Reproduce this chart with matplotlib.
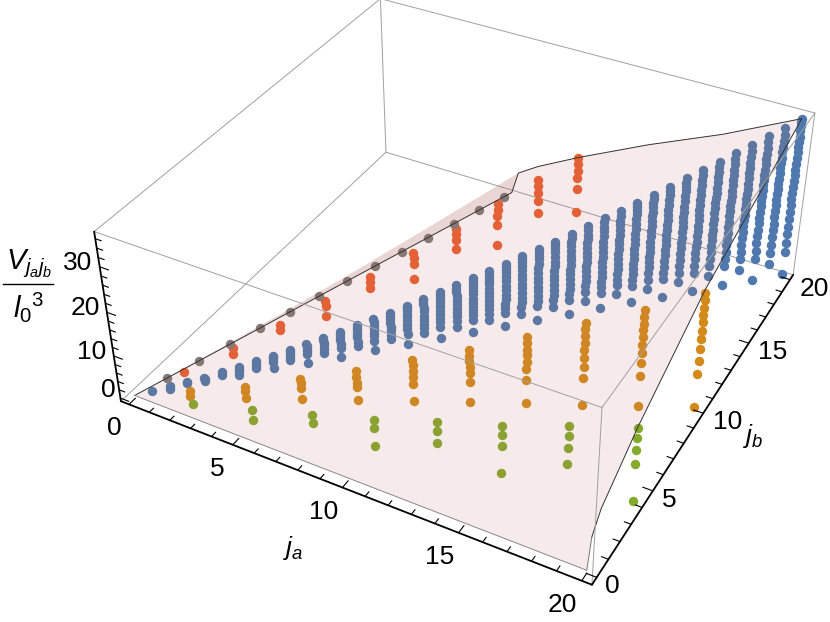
import numpy as np
import matplotlib
matplotlib.use('Agg')
import matplotlib.pyplot as plt
from mpl_toolkits.mplot3d import proj3d
from mpl_toolkits.mplot3d.art3d import Poly3DCollection

plt.rcParams['font.family'] = 'Liberation Sans'
plt.rcParams['mathtext.fontset'] = 'custom'
plt.rcParams['mathtext.rm'] = 'Liberation Sans'
plt.rcParams['mathtext.it'] = 'Liberation Sans:italic'

# box limits (2% padding as in the original)
ja_lim = [-0.4, 20.4]
jb_lim = [-0.4, 20.4]
v_lim = [-0.75, 37.5]

# where the box corners sit on the 830x622 picture (the eighth is off the top)
corner_world = [
    (ja_lim[0], jb_lim[0], v_lim[0]), (ja_lim[1], jb_lim[0], v_lim[0]),
    (ja_lim[1], jb_lim[1], v_lim[0]), (ja_lim[0], jb_lim[1], v_lim[0]),
    (ja_lim[0], jb_lim[0], v_lim[1]), (ja_lim[1], jb_lim[0], v_lim[1]),
    (ja_lim[1], jb_lim[1], v_lim[1])]
corner_pixel = [(121, 401), (592, 585), (793, 275), (386, 152),
                (94, 232), (602, 407), (815, 113)]

# blue: ja = jb
blue_j = [0.5, 1, 1.5, 2, 2.5, 3, 3.5, 4, 4.5, 5, 5.5, 6, 6.5, 7, 7.5, 8, 8.5, 9, 9.5, 10,
          10.5, 11, 11.5, 12, 12.5, 13, 13.5, 14, 14.5, 15, 15.5, 16, 16.5, 17, 17.5, 18,
          18.5, 19, 19.5, 20]
blue_v = [
    [0.2], [0, 0.6], [0.5, 0.9], [0.3, 0.7, 1.1], [1.0, 1.6], [0.3, 1.2, 1.7, 2.1],
    [1.2, 1.8, 2.3, 2.7], [0.3, 1.9, 2.5, 2.9, 3.3], [1.4, 2.3, 2.9, 3.4, 3.9],
    [0, 2.1, 2.9, 3.5, 4.1, 4.5], [1.7, 2.65, 3.5, 4.2, 4.8, 5.3],
    [0, 2.1, 3.1, 4, 4.8, 5.5, 6], [1.8, 2.9, 3.9, 4.8, 5.6, 6.2, 6.8],
    [0, 2.4, 3.4, 4.3, 5.2, 6, 6.8, 7.6], [2.1, 3.1, 4.1, 5, 5.9, 6.8, 7.6, 8.4],
    [0, 2.6, 3.7, 4.7, 5.6, 6.5, 7.4, 8.2, 8.8, 9.3], [2, 3.2, 4.2, 5.2, 6.2, 7.2, 8.1, 8.9, 9.6, 10.2],
    [0, 2.8, 3.9, 4.9, 5.9, 6.9, 7.9, 8.8, 9.6, 10.4, 11.1],
    [2, 3.5, 4.6, 5.6, 6.6, 7.6, 8.6, 9.5, 10.4, 11.2, 12],
    [0, 3, 4.1, 5.1, 6.1, 7.1, 8.1, 9.1, 10, 10.8, 11.6, 12.3, 13],
    [2.1, 3.7, 4.8, 5.8, 6.8, 7.8, 8.8, 9.8, 10.8, 11.7, 12.5, 13.3, 14],
    [0, 3.1, 4.3, 5.4, 6.5, 7.6, 8.7, 9.8, 10.9, 11.9, 12.8, 13.6, 14.3, 15],
    [2.3, 3.9, 5.1, 6.2, 7.3, 8.4, 9.5, 10.6, 11.7, 12.7, 13.7, 14.6, 15.4, 16],
    [0, 3.4, 4.7, 5.9, 7, 8.1, 9.2, 10.3, 11.4, 12.5, 13.6, 14.6, 15.5, 16.3, 17],
    [2.4, 4.2, 5.5, 6.7, 7.9, 9, 10.1, 11.2, 12.3, 13.4, 14.5, 15.6, 16.6, 17.4, 18.1],
    [0, 3.5, 4.9, 6.2, 7.4, 8.6, 9.7, 10.8, 11.9, 13, 14.1, 15.2, 16.3, 17.3, 18.3, 19.2],
    [2.6, 4.8, 6.2, 7.4, 8.6, 9.8, 10.9, 12, 13.1, 14.2, 15.3, 16.4, 17.4, 18.4, 19.4, 20.3],
    [0, 3.7, 5.1, 6.4, 7.7, 8.9, 10.1, 11.3, 12.5, 13.7, 14.9, 16.1, 17.3, 18.5, 19.6, 20.6, 21.5],
    [2.7, 4.9, 6.3, 7.6, 8.8, 10, 11.2, 12.4, 13.6, 14.8, 15.9, 17, 18.1, 19.2, 20.3, 21.5, 22.6],
    [0, 4, 5.5, 6.9, 8.2, 9.4, 10.6, 11.8, 13, 14.2, 15.4, 16.6, 17.8, 18.9, 20, 21.1, 22.1, 23, 23.8],
    [2.7, 4.9, 6.5, 7.9, 9.2, 10.5, 11.7, 12.9, 14.1, 15.3, 16.5, 17.7, 18.9, 20, 21.1, 22.2, 23.2, 24.1, 25],
    [0, 4.3, 5.9, 7.4, 8.8, 10.1, 11.4, 12.6, 13.8, 15, 16.2, 17.4, 18.6, 19.8, 20.9, 22, 23.1, 24.2, 25.2, 26.2],
    [2.9, 5.2, 6.9, 8.4, 9.8, 11.1, 12.4, 13.7, 15, 16.2, 17.4, 18.6, 19.8, 21, 22.2, 23.4, 24.5, 25.5, 26.5, 27.5],
    [0, 4.5, 6.2, 7.8, 9.3, 10.7, 12, 13.3, 14.6, 15.9, 17.1, 18.3, 19.5, 20.7, 21.9, 23.1, 24.2, 25.3, 26.4, 27.6, 28.7],
    [3, 5.4, 7.2, 8.8, 10.3, 11.7, 13, 14.3, 15.6, 16.9, 18.1, 19.3, 20.5, 21.7, 22.9, 24.1, 25.3, 26.5, 27.7, 28.9, 30],
    [0, 4.8, 6.6, 8.3, 9.9, 11.4, 12.8, 14.2, 15.5, 16.8, 18, 19.2, 20.4, 21.6, 22.8, 24, 25.2, 26.4, 27.6, 28.8, 30.1, 31.3],
    [3.1, 5.7, 7.6, 9.3, 10.9, 12.4, 13.8, 15.2, 16.5, 17.8, 19, 20.2, 21.4, 22.6, 23.8, 25, 26.2, 27.4, 28.6, 29.9, 31.2, 32.6],
    [0, 5.2, 7.2, 9, 10.7, 12.3, 13.8, 15.2, 16.6, 17.9, 19.2, 20.4, 21.6, 22.8, 24, 25.2, 26.4, 27.6, 28.8, 30, 31.3, 32.6, 34],
    [3.2, 5.9, 7.9, 9.8, 11.5, 13.1, 14.6, 16.1, 17.5, 18.8, 20.1, 21.3, 22.5, 23.7, 24.9, 26.1, 27.3, 28.5, 29.7, 30.9, 32.2, 33.7, 35.3],
    [0, 5.4, 7.7, 9.8, 11.7, 13.5, 15.2, 16.8, 18.3, 19.8, 21.2, 22.6, 23.9, 25.2, 26.5, 27.8, 29.1, 30.3, 31.5, 32.7, 33.9, 35.1, 36, 36.7]]

# orange: jb = ja/2
orange_ja = [2, 4, 6, 8, 10, 12, 14, 16, 18, 20]
orange_jb = [1, 2, 3, 4, 5, 6, 7, 8, 9, 10]
orange_v = [
    [0.2, 1.4], [0, 1.7, 2.7], [0, 2.6, 3.8, 4.8], [0, 3.1, 4.1, 5.5, 6.9],
    [0, 4.1, 5.9, 7.3, 8.5, 9.7], [0, 4.9, 7.1, 8.5, 9.9, 11, 12.3],
    [0, 5.6, 8.1, 9.8, 11.4, 12.6, 14.2, 15.7],
    [0, 6.4, 8.9, 11, 12.8, 14.6, 16.2, 17.7, 19],
    [0, 7.1, 10.1, 12.4, 14.4, 16.1, 17.7, 19.1, 20.7, 22.3],
    [0, 7.8, 11, 13.7, 15.9, 17.8, 19.7, 21.4, 23, 24.7, 26.2]]

# green: jb = ja/5
green_ja = [2.5, 5, 7.5, 10, 12.5, 15, 17.5, 20]
green_jb = [0.5, 1, 1.5, 2, 2.5, 3, 3.5, 4]
green_v = [
    [0.9], [0, 2.4], [2.4, 4.3], [0, 4.4, 6.2], [3.8, 6.7, 8.8], [0, 6.4, 8.9, 11],
    [5.3, 9, 11.8, 14], [0, 8.5, 11.8, 14.4, 16.7]]

# red: jb = 2 ja
red_ja = [1, 2, 3, 4, 5, 6, 7, 8, 9, 10]
red_jb = [2, 4, 6, 8, 10, 12, 14, 16, 18, 20]
red_v = [
    [0.6], [0, 1.5], [1.2, 2.4], [0, 2.5, 3.7], [2.2, 3.9, 5.1], [0, 3.8, 5.2, 6.6],
    [3.1, 5.4, 7, 8.2], [0, 4.9, 7.1, 8.8, 10.2], [3.8, 6.8, 8.8, 10.5, 12],
    [0, 5.9, 8.6, 10.4, 12, 13.5]]

# grey: jb = 3 ja, the edge of the allowed region
grey_ja = [0.5, 1, 1.5, 2, 2.5, 3, 3.5, 4, 4.5, 5, 5.5, 6, 6.5]
grey_jb = [1.5, 3, 4.5, 6, 7.5, 9, 10.5, 12, 13.5, 15, 16.5, 18, 19.5]
grey_v = [0, 0, 0, 0, 0, 0, 0, 0, 0, 0, 0, 0, 0]

# rim of the translucent upper surface, walked round from the origin
rim_ja = [0, 20, 20, 20, 20, 20, 20, 16.67, 13.33, 10, 8, 7]
rim_jb = [0, 0, 0.3, 1, 4, 10, 20, 20, 20, 20, 20, 20]
rim_v = [0, 0, 6.5, 10, 16.9, 27.2, 36.7, 28.6, 21.5, 13.7, 8.6, 5.5]
# the part of the surface that folds over just before the jb = 3 ja edge
fold_ja = [5.25, 3.5, 1.75]
fold_jb = [15, 10, 5]
fold_v = [3.6, 1.9, 0.7]
edge_ja = [6.67, 5, 3.33, 1.67]
edge_jb = [20, 15, 10, 5]

ja_major = [0, 5, 10, 15, 20]
jb_major = [0, 5, 10, 15, 20]
v_major = [0, 10, 20, 30]
ja_minor = [1, 2, 3, 4, 6, 7, 8, 9, 11, 12, 13, 14, 16, 17, 18, 19]
jb_minor = [1, 2, 3, 4, 6, 7, 8, 9, 11, 12, 13, 14, 16, 17, 18, 19]
v_minor = [2, 4, 6, 8, 12, 14, 16, 18, 22, 24, 26, 28, 32, 34, 36]


def camera_matrix(world, pixel):
    # plain DLT fit of the perspective camera from the box corners
    rows = []
    for (x, y, z), (px, py) in zip(world, pixel):
        rows.append([x, y, z, 1, 0, 0, 0, 0, -px*x, -px*y, -px*z, -px])
        rows.append([0, 0, 0, 0, x, y, z, 1, -py*x, -py*y, -py*z, -py])
    p = np.linalg.svd(np.array(rows, dtype=float))[2][-1].reshape(3, 4)
    p = p / (p[2] @ [10, 10, 18, 1])
    return np.vstack([p[0], p[1], [0, 0, 1, 0], p[2]])


def flatten(ja, jb, values):
    xs, ys, zs = [], [], []
    for a, b, col in zip(ja, jb, values):
        for v in col:
            xs.append(a)
            ys.append(b)
            zs.append(v)
    return xs, ys, zs


fig = plt.figure(figsize=(8.3, 6.22), dpi=100)
ax = fig.add_axes([0, 0, 1, 1], projection='3d', computed_zorder=False, proj_type='ortho')
ax.set_axis_off()
M = camera_matrix(corner_world, corner_pixel)
ax.get_proj = lambda: M
ax.apply_aspect = lambda position=None: None
ax.viewLim.intervalx = (0, 830)
ax.viewLim.intervaly = (622, 0)

a0, a1 = ja_lim
b0, b1 = jb_lim
v0, v1 = v_lim
box_grey = '#a0a0a0'


def edge(p, q, color=box_grey, lw=0.7, z=0):
    ax.plot([p[0], q[0]], [p[1], q[1]], [p[2], q[2]], color=color, lw=lw, zorder=z,
            solid_capstyle='round')


# box edges behind the data
edge((a0, b1, v0), (a0, b0, v0))
edge((a0, b1, v0), (a1, b1, v0))
edge((a0, b1, v0), (a0, b1, v1))

# points
dot = 46
ax.scatter(*flatten(blue_j, blue_j, blue_v), s=dot, c='#4f79ae', linewidths=0, depthshade=False, zorder=1)
ax.scatter(*flatten(orange_ja, orange_jb, orange_v), s=dot, c='#d38a1a', linewidths=0, depthshade=False, zorder=1)
ax.scatter(*flatten(green_ja, green_jb, green_v), s=dot, c='#84aa2c', linewidths=0, depthshade=False, zorder=1)
ax.scatter(*flatten(red_ja, red_jb, red_v), s=dot, c='#ea5f30', linewidths=0, depthshade=False, zorder=1)
ax.scatter(grey_ja, grey_jb, grey_v, s=dot, c='#7f7a78', linewidths=0, depthshade=False, zorder=1)

# surface in front of the points
sheet = list(zip(rim_ja, rim_jb, rim_v)) + list(zip(fold_ja, fold_jb, fold_v))
fold = list(zip(fold_ja, fold_jb, fold_v))[::-1] + [(7, 20, 5.5)] + list(zip(edge_ja, edge_jb, [0, 0, 0, 0])) + [(0, 0, 0)]
surf = Poly3DCollection([sheet], facecolors='#bc6c5f', edgecolors='none', linewidths=0, alpha=0.13, zorder=2)
ax.add_collection3d(surf, autolim=False)
surf2 = Poly3DCollection([fold], facecolors='#a05a50', edgecolors='none', linewidths=0, alpha=0.15, zorder=2)
ax.add_collection3d(surf2, autolim=False)

# surface outline
ax.plot([0] + edge_ja[::-1] + rim_ja[:1:-1], [0] + edge_jb[::-1] + rim_jb[:1:-1],
        [0, 0, 0, 0, 0] + rim_v[:1:-1], color='#333333', lw=0.7, zorder=3)
ax.plot([20, 20], [0, 0.3], [0, 6.5], color='#777777', lw=0.7, zorder=3)
edge((0, 0, 0), (20, 0, 0), color='#888888', z=3)

# box edges in front of the data
edge((a0, b0, v1), (a1, b0, v1), z=4)
edge((a1, b0, v1), (a1, b1, v1), z=4)
edge((a1, b1, v1), (a0, b1, v1), z=4)
edge((a0, b1, v1), (a0, b0, v1), z=4)
edge((a1, b0, v0), (a1, b0, v1), z=4)
edge((a1, b1, v0), (a1, b1, v1), z=4)

# axes and ticks
edge((a0, b0, v0), (a1, b0, v0), color='black', lw=1.3, z=5)
edge((a1, b0, v0), (a1, b1, v0), color='black', lw=1.3, z=5)
edge((a0, b0, v0), (a0, b0, v1), color='black', lw=1.3, z=5)
for t in ja_major:
    edge((t, b0, v0), (t, b0 + 0.42, v0), color='black', lw=0.8, z=5)
for t in ja_minor:
    edge((t, b0, v0), (t, b0 + 0.28, v0), color='black', lw=0.8, z=5)
for t in jb_major:
    edge((a1, t, v0), (a1 - 0.42, t, v0), color='black', lw=0.8, z=5)
for t in jb_minor:
    edge((a1, t, v0), (a1 - 0.28, t, v0), color='black', lw=0.8, z=5)
for t in v_major:
    edge((a0, b0, t), (a0 + 0.42, b0, t), color='black', lw=0.8, z=5)
for t in v_minor:
    edge((a0, b0, t), (a0 + 0.28, b0, t), color='black', lw=0.8, z=5)


def tick_label(x, y, z, text, dx, dy):
    px, py, _ = proj3d.proj_transform(x, y, z, M)
    ax.annotate(text, (px, py), xytext=(dx, -dy), textcoords='offset pixels',
                ha='center', va='center', fontsize=19, annotation_clip=False)


for t in ja_major:
    tick_label(t, b0, v0, str(t), -15 if t < 10 else -19, 24)
for t in jb_major:
    tick_label(a1, t, v0, str(t), 16 if t < 10 else 24, 9)
for t in v_major:
    tick_label(a0, b0, t, str(t), -12 if t < 10 else -22, -8 if t == 0 else -4)

fig.text(293/830, 1 - 548/622, r'$j_a$', fontsize=19, ha='center', va='center')
fig.text(753/830, 1 - 436/622, r'$j_b$', fontsize=19, ha='center', va='center')
fig.text(29/830, 1 - 264/622, r'$V_{j_a j_b}$', fontsize=21, ha='center', va='center')
fig.text(29/830, 1 - 307/622, r'$l_0{}^{3}$', fontsize=21, ha='center', va='center')
fig.add_artist(plt.Line2D([3/830, 53/830], [1 - 284/622, 1 - 284/622], color='black', lw=1.0))

fig.savefig('out.png', dpi=100)
